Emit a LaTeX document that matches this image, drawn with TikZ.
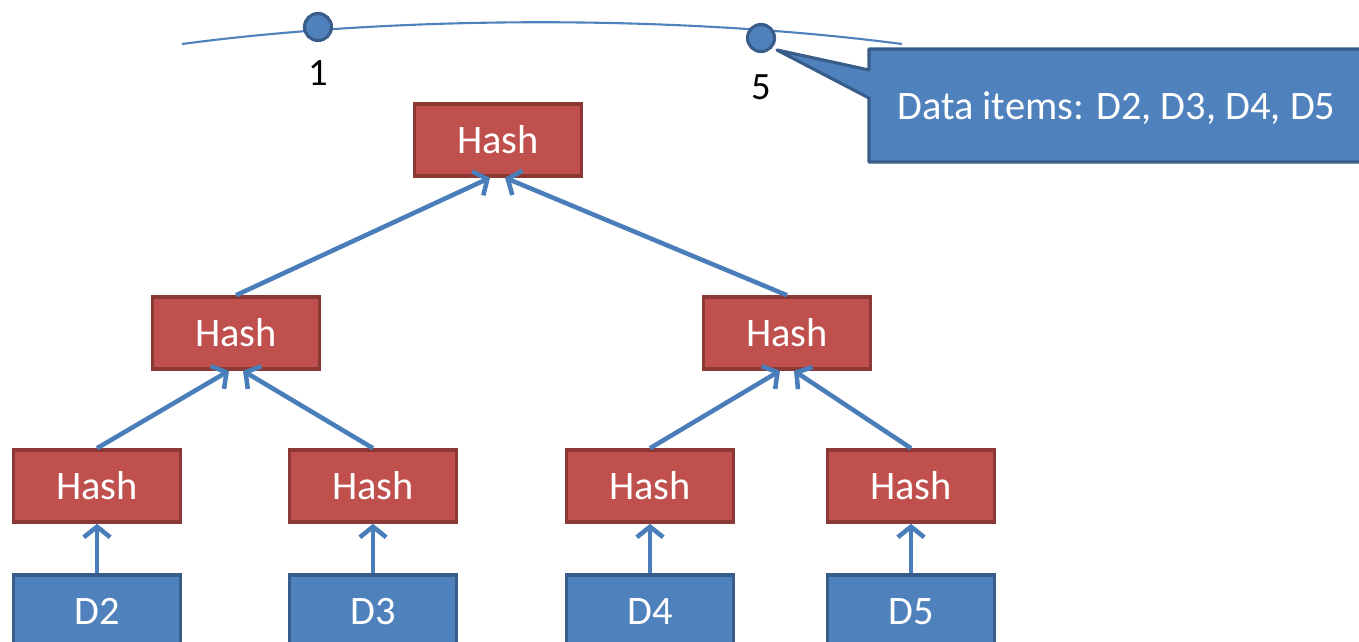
\documentclass[tikz,border=0pt]{standalone}
\usepackage{fontspec}
\setmainfont{Carlito}
\usetikzlibrary{arrows.meta,positioning,calc}
\definecolor{hashred}{RGB}{192,80,77}
\definecolor{hashedge}{RGB}{140,56,53}
\definecolor{itemblue}{RGB}{79,129,189}
\definecolor{itemedge}{RGB}{56,93,138}
\definecolor{linkblue}{RGB}{74,126,187}

\tikzset{
  hashbox/.style={draw=hashedge,fill=hashred,line width=2pt,text=white,
    minimum width=3.34cm,minimum height=1.44cm,inner sep=0pt,
    font=\fontsize{23}{27}\selectfont},
  itembox/.style={draw=itemedge,fill=itemblue,line width=2pt,text=white,
    minimum width=3.34cm,minimum height=1.48cm,inner sep=0pt,anchor=north,
    font=\fontsize{23}{27}\selectfont},
  link/.style={linkblue,line width=2.6pt,-{Straight Barb[length=6pt,width=15pt]}},
  ringline/.style={itemblue,line width=1.2pt},
  ringnode/.style={circle,draw=itemedge,fill=itemblue,line width=1.8pt,
    minimum size=0.54cm,inner sep=0pt},
  ringlbl/.style={font=\fontsize{22}{26}\selectfont,inner sep=0pt},
  infoshape/.style={draw=itemedge,fill=itemblue,line width=1.8pt,line join=round},
  infotext/.style={text=white,font=\fontsize{23}{27}\selectfont,inner sep=0pt}
}

\begin{document}
\begin{tikzpicture}[x=0.02cm,y=-0.02cm]
  \useasboundingbox (0,0) rectangle (1359,642);
  \clip (0,0) rectangle (1359,642);

  %% anneau
  \draw[ringline] (182,44) .. controls (400,15) and (680,15) .. (902,44);
  \node[ringnode] (n1) at (318,27) {};
  \node[ringnode] (n5) at (761,38) {};
  \node[ringlbl] (l1) at (318,73) {1};
  \node[ringlbl] (l5) at (761,87) {5};

  %% bulle
  \coordinate (tip) at ($(n5.center)+(16,12)$);
  \draw[infoshape] (tip) -- (869,70) -- (869,49) -- (1380,49)
    -- (1380,162) -- (869,162) -- (869,98) -- cycle;
  \node[infotext,anchor=base west] (info) at (897,120) {Data items: D2, D3, D4, D5};

  %% arbre
  \node[hashbox] (root) at (498,140) {Hash};
  \node[hashbox] (hL) at (236,333) {Hash};
  \node[hashbox] (hR) at (787,333) {Hash};
  \node[hashbox] (h2) at (97,486) {Hash};
  \node[hashbox] (h3) at (373,486) {Hash};
  \node[hashbox] (h4) at (650,486) {Hash};
  \node[hashbox] (h5) at (911,486) {Hash};
  \node[itembox] (d2) at (97,573) {D2};
  \node[itembox] (d3) at (373,573) {D3};
  \node[itembox] (d4) at (650,573) {D4};
  \node[itembox] (d5) at (911,573) {D5};

  %% fleches
  \foreach \d/\h in {d2/h2,d3/h3,d4/h4,d5/h5}
    \draw[link] (\d) -- (\h);
  \foreach \c/\p/\o in {h2/hL/-7,h3/hL/7,h4/hR/-7,h5/hR/7,hL/root/-8,hR/root/7}
    \draw[link] (\c.north) -- ($(\p.south)+(\o,0)$);
\end{tikzpicture}
\end{document}
